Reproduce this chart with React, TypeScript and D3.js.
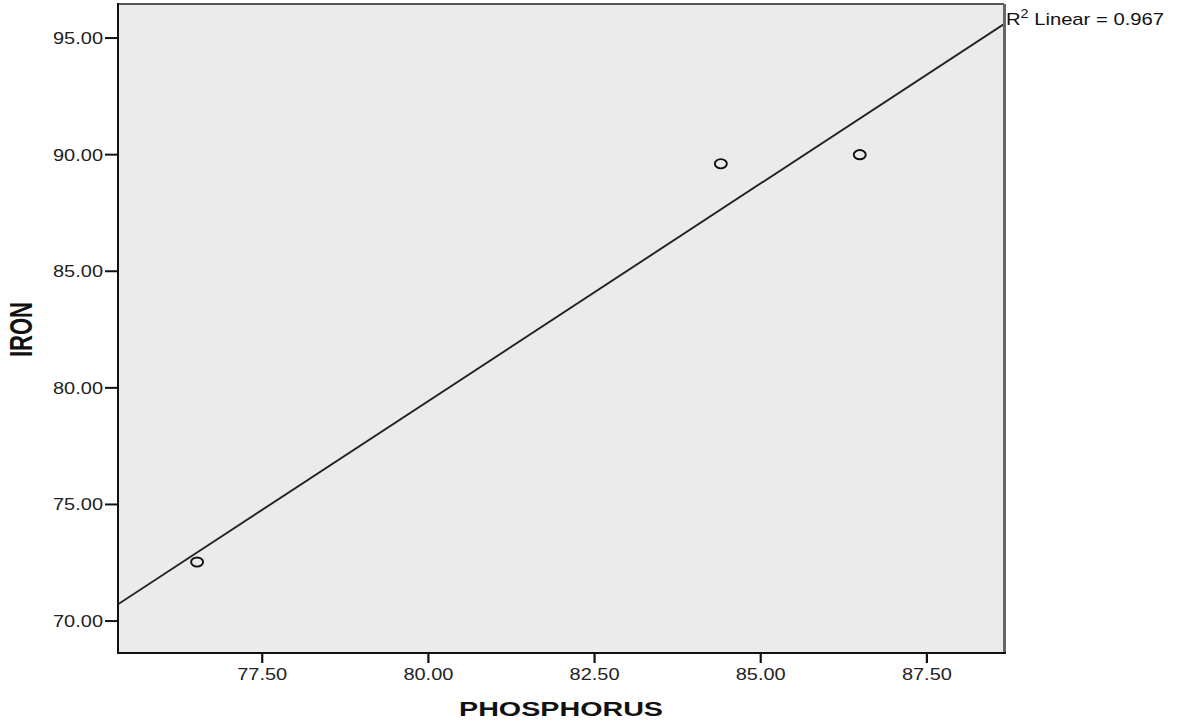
import React from "react";
import * as d3 from "d3";

const phosphorus = [76.52, 84.4, 86.49];
const iron = [72.53, 89.61, 90.0];
const xTicks = [77.5, 80, 82.5, 85, 87.5];
const yTicks = [70, 75, 80, 85, 90, 95];
const xDomain = [75.33, 88.66];
const yDomain = [68.63, 96.46];
const r2Label = "0.967";

const W = 1179;
const H = 723;
const L = 118, R = 1004, T = 4, B = 653;

export default function App() {
  const x = d3.scaleLinear().domain(xDomain).range([L, R]);
  const y = d3.scaleLinear().domain(yDomain).range([B, T]);
  const fmt = d3.format(".2f");

  const mx = d3.mean(phosphorus)!;
  const my = d3.mean(iron)!;
  let sxy = 0, sxx = 0;
  phosphorus.forEach((p, i) => {
    sxy += (p - mx) * (iron[i] - my);
    sxx += (p - mx) * (p - mx);
  });
  const slope = sxy / sxx;
  const intercept = my - slope * mx;
  const lineGen = d3.line<number>().x((d) => x(d)).y((d) => y(slope * d + intercept));
  const font = "'Liberation Sans', Arial, sans-serif";

  return (
    <div style={{ position: "absolute", left: 0, top: 0 }}>
      <svg width={W} height={H} style={{ display: "block" }} fontFamily={font}>
        <rect x={0} y={0} width={W} height={H} fill="#ffffff" />
        <defs>
          <clipPath id="plotclip">
            <rect x={L} y={T} width={R - L} height={B - T} />
          </clipPath>
        </defs>
        <rect x={L} y={T} width={R - L} height={B - T} fill="#ebebeb" />
        <path d={lineGen(xDomain) || ""} stroke="#222" strokeWidth={1.9} fill="none" clipPath="url(#plotclip)" />
        {phosphorus.map((p, i) => (
          <ellipse key={i} cx={x(p)} cy={y(iron[i])} rx={6} ry={4.6} fill="none" stroke="#111" strokeWidth={1.9} />
        ))}
        {/* frame */}
        <line x1={L} y1={T} x2={R} y2={T} stroke="#555" strokeWidth={2} />
        <line x1={R + 0.5} y1={T} x2={R + 0.5} y2={B} stroke="#666" strokeWidth={3} />
        <line x1={L} y1={T - 1} x2={L} y2={B + 1} stroke="#111" strokeWidth={2} />
        <line x1={L - 1} y1={B} x2={R + 2} y2={B} stroke="#111" strokeWidth={2} />
        {/* y ticks */}
        {yTicks.map((t) => (
          <g key={t}>
            <line x1={L - 13} x2={L} y1={y(t)} y2={y(t)} stroke="#111" strokeWidth={2} />
            <text x={103} y={y(t) + 6} textAnchor="end" fontSize={17} fill="#222" textLength={50} lengthAdjust="spacingAndGlyphs">
              {fmt(t)}
            </text>
          </g>
        ))}
        {/* x ticks */}
        {xTicks.map((t) => (
          <g key={t}>
            <line x1={x(t)} x2={x(t)} y1={B} y2={B + 10} stroke="#111" strokeWidth={2.2} />
            <text x={x(t) - 25} y={680} fontSize={17} fill="#222" textLength={50} lengthAdjust="spacingAndGlyphs">
              {fmt(t)}
            </text>
          </g>
        ))}
        <text x={459} y={716} fontSize={20} fontWeight="bold" fill="#111" textLength={204} lengthAdjust="spacingAndGlyphs">
          PHOSPHORUS
        </text>
        <g transform="translate(32,357) scale(1.45,1) rotate(-90)">
          <text x={0} y={0} fontSize={21} fontWeight="bold" fill="#111" textLength={55} lengthAdjust="spacingAndGlyphs">
            IRON
          </text>
        </g>
        <g transform="translate(1006,25) scale(1.19,1)">
          <text x={0} y={0} fontSize={17} fill="#111">
            R<tspan dy={-7} fontSize={12}>2</tspan>
            <tspan dy={7}> Linear = {r2Label}</tspan>
          </text>
        </g>
      </svg>
    </div>
  );
}
